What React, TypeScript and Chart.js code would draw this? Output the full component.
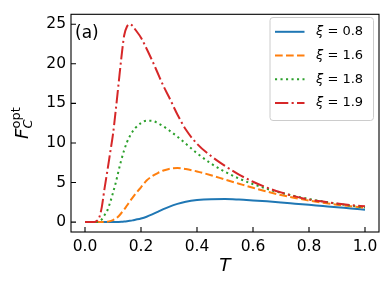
import React, { useEffect, useRef } from "react";
import { Chart, registerables } from "chart.js";

Chart.register(...registerables);

const tValues = [0, 0.02, 0.03, 0.04, 0.05, 0.06, 0.07, 0.08, 0.09, 0.10, 0.11, 0.12, 0.13, 0.14, 0.15, 0.16, 0.17, 0.18, 0.20, 0.22, 0.24, 0.26, 0.28, 0.30, 0.33, 0.36, 0.40, 0.45, 0.50, 0.55, 0.60, 0.65, 0.70, 0.75, 0.80, 0.85, 0.90, 0.95, 1.00];

const xi08 = [0, 0, 0, 0, 0, 0, 0, 0, 0, 0.01, 0.01, 0.02, 0.04, 0.07, 0.11, 0.16, 0.22, 0.3, 0.46, 0.68, 0.97, 1.3, 1.63, 1.93, 2.3, 2.57, 2.78, 2.9, 2.92, 2.85, 2.74, 2.62, 2.48, 2.33, 2.18, 2.03, 1.88, 1.72, 1.57];
const xi16 = [0, 0, 0, 0, 0, 0, 0.02, 0.05, 0.12, 0.25, 0.45, 0.75, 1.15, 1.6, 2.1, 2.6, 3.1, 3.55, 4.4, 5.25, 5.8, 6.2, 6.52, 6.72, 6.82, 6.7, 6.4, 5.92, 5.38, 4.85, 4.33, 3.85, 3.42, 3.05, 2.72, 2.45, 2.2, 2.0, 1.82];
const xi18 = [0, 0, 0, 0, 0.1, 0.35, 0.9, 1.5, 2.5, 3.7, 5.0, 6.5, 7.9, 9.1, 10.1, 10.85, 11.45, 11.9, 12.5, 12.82, 12.8, 12.5, 12.1, 11.6, 10.8, 9.9, 8.7, 7.4, 6.35, 5.5, 4.8, 4.2, 3.7, 3.28, 2.92, 2.6, 2.32, 2.07, 1.85];
const xi19 = [0, 0, 0, 0.1, 0.5, 1.9, 4.3, 6.5, 8.8, 11.1, 14.2, 17.5, 20.8, 23.6, 24.7, 25.0, 24.8, 24.3, 23.3, 21.9, 20.4, 18.8, 17.2, 15.8, 13.6, 11.7, 9.9, 8.35, 7.1, 6.0, 5.1, 4.35, 3.75, 3.25, 2.85, 2.6, 2.35, 2.15, 2.0];

const seriesLabels = ["0.8", "1.6", "1.8", "1.9"];
const xTicks = [0, 0.2, 0.4, 0.6, 0.8, 1.0];
const yTicks = [0, 5, 10, 15, 20, 25];

const FONT = "'DejaVu Sans'";

const toPts = (ys: number[]) => ys.map((y, i) => ({ x: tValues[i], y }));

const decorPlugin = {
  id: "decor",
  afterDraw(chart: any) {
    const ctx = chart.ctx as CanvasRenderingContext2D;
    const { left, right, top, bottom } = chart.chartArea;
    const xs = chart.scales.x;
    const ys = chart.scales.y;
    ctx.save();
    ctx.strokeStyle = "#000";
    ctx.lineWidth = 1.1;
    ctx.setLineDash([]);
    ctx.strokeRect(left, top, right - left, bottom - top);
    ctx.beginPath();
    xTicks.forEach((v) => {
      const px = xs.getPixelForValue(v);
      ctx.moveTo(px, bottom);
      ctx.lineTo(px, bottom - 5);
    });
    yTicks.forEach((v) => {
      const py = ys.getPixelForValue(v);
      ctx.moveTo(left, py);
      ctx.lineTo(left + 5, py);
    });
    ctx.stroke();

    ctx.fillStyle = "#000";
    ctx.font = `17px ${FONT}`;
    ctx.textAlign = "left";
    ctx.textBaseline = "alphabetic";
    ctx.fillText("(a)", left + 4, top + 24);

    ctx.font = `italic 18.5px ${FONT}`;
    ctx.textAlign = "center";
    ctx.fillText("T", (left + right) / 2, 271);

    ctx.save();
    const cy = (top + bottom) / 2;
    ctx.translate(28, cy);
    ctx.rotate(-Math.PI / 2);
    ctx.textAlign = "left";
    ctx.font = `italic 18.5px ${FONT}`;
    const fW = ctx.measureText("F").width;
    ctx.font = `13px ${FONT}`;
    const optW = ctx.measureText("opt").width;
    const total = fW + optW;
    const x0 = -total / 2;
    ctx.font = `italic 18.5px ${FONT}`;
    ctx.fillText("F", x0, 0);
    ctx.font = `italic 13px ${FONT}`;
    ctx.fillText("C", x0 + fW, 4);
    ctx.font = `13px ${FONT}`;
    ctx.fillText("opt", x0 + fW, -8);
    ctx.restore();

    const bx = 270, by = 17.5, bw = 103.5, bh = 103, r = 3;
    ctx.beginPath();
    ctx.moveTo(bx + r, by);
    ctx.lineTo(bx + bw - r, by);
    ctx.quadraticCurveTo(bx + bw, by, bx + bw, by + r);
    ctx.lineTo(bx + bw, by + bh - r);
    ctx.quadraticCurveTo(bx + bw, by + bh, bx + bw - r, by + bh);
    ctx.lineTo(bx + r, by + bh);
    ctx.quadraticCurveTo(bx, by + bh, bx, by + bh - r);
    ctx.lineTo(bx, by + r);
    ctx.quadraticCurveTo(bx, by, bx + r, by);
    ctx.closePath();
    ctx.fillStyle = "rgba(255,255,255,0.8)";
    ctx.fill();
    ctx.strokeStyle = "#cccccc";
    ctx.lineWidth = 1;
    ctx.stroke();

    chart.data.datasets.forEach((ds: any, i: number) => {
      const ry = 31.8 + i * 23.7;
      ctx.beginPath();
      ctx.strokeStyle = ds.borderColor;
      ctx.lineWidth = ds.borderWidth;
      ctx.lineCap = "butt";
      ctx.setLineDash(ds.borderDash || []);
      ctx.moveTo(275, ry);
      ctx.lineTo(304.5, ry);
      ctx.stroke();
      ctx.setLineDash([]);
      ctx.fillStyle = "#000";
      ctx.textAlign = "left";
      ctx.textBaseline = "middle";
      ctx.font = `italic 13px ${FONT}`;
      const xiW = ctx.measureText("ξ").width;
      ctx.fillText("ξ", 316, ry);
      ctx.font = `13px ${FONT}`;
      ctx.fillText(" = " + seriesLabels[i], 316 + xiW, ry);
    });
    ctx.restore();
  },
};

export default function App() {
  const ref = useRef<HTMLCanvasElement | null>(null);
  useEffect(() => {
    document.body.style.margin = "0";
    if (!ref.current) return;
    const common = { pointRadius: 0, borderWidth: 2, fill: false, cubicInterpolationMode: "monotone" as const, borderCapStyle: "butt" as const };
    const chart = new Chart(ref.current, {
      type: "line",
      data: {
        datasets: [
          { ...common, label: "ξ = " + seriesLabels[0], data: toPts(xi08), borderColor: "#1f77b4", order: 4 },
          { ...common, label: "ξ = " + seriesLabels[1], data: toPts(xi16), borderColor: "#ff7f0e", borderDash: [7.7, 3.3], order: 3 },
          { ...common, label: "ξ = " + seriesLabels[2], data: toPts(xi18), borderColor: "#2ca02c", borderDash: [2.1, 3.4], order: 2 },
          { ...common, label: "ξ = " + seriesLabels[3], data: toPts(xi19), borderColor: "#d62728", borderDash: [13.3, 3.3, 2.1, 3.3], order: 1 },
        ],
      },
      options: {
        animation: false,
        responsive: false,
        events: [],
        layout: { padding: { top: 10, right: 9, left: 0, bottom: 0 } },
        plugins: { legend: { display: false }, tooltip: { enabled: false } },
        scales: {
          x: {
            type: "linear",
            min: -0.05,
            max: 1.05,
            grid: { display: false, drawTicks: false },
            border: { display: false },
            afterFit: (s: any) => { s.height = 54; },
            afterBuildTicks: (s: any) => { s.ticks = xTicks.map((v) => ({ value: v })); },
            ticks: {
              autoSkip: false,
              maxRotation: 0,
              padding: 6,
              color: "#000",
              font: { family: "DejaVu Sans", size: 15.5 },
              callback: (v: any) => Number(v).toFixed(1),
            },
          },
          y: {
            type: "linear",
            min: -1.25,
            max: 26.25,
            grid: { display: false, drawTicks: false },
            border: { display: false },
            afterFit: (s: any) => { s.width = 71; },
            afterBuildTicks: (s: any) => { s.ticks = yTicks.map((v) => ({ value: v })); },
            ticks: {
              autoSkip: false,
              padding: 5,
              color: "#000",
              font: { family: "DejaVu Sans", size: 15.5 },
              callback: (v: any) => String(v),
            },
          },
        },
      },
      plugins: [decorPlugin],
    });
    return () => chart.destroy();
  }, []);
  return (
    <div style={{ width: 388, height: 286 }}>
      <canvas ref={ref} width={388} height={286} style={{ width: 388, height: 286, display: "block" }} />
    </div>
  );
}
